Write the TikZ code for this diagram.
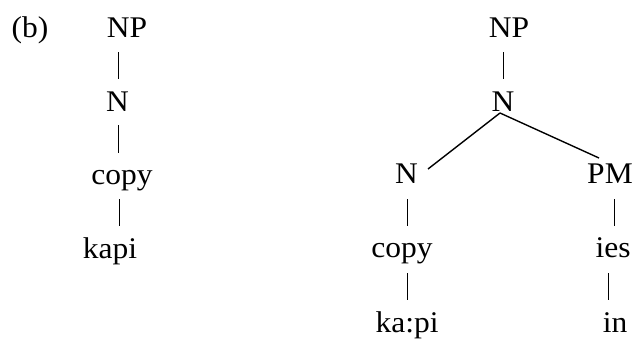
\documentclass[tikz,border=0pt]{standalone}
\usepackage{fontspec}
\setmainfont{Liberation Serif}[FakeStretch=1.05]
\begin{document}
\begin{tikzpicture}[x=1pt,y=-1pt,
  lbl/.style={anchor=base,inner sep=0pt,font=\fontsize{30}{34}\selectfont},
  edge/.style={line width=1.4pt,black},
  bar/.style={line width=1pt,black}]
\useasboundingbox (0,0) rectangle (636,338);
% label
\node[lbl] (b) at (30,37) {(b)};
% left tree
\node[lbl] (np1) at (127,37) {NP};
\node[lbl] (n1) at (117.5,111) {N};
\node[lbl] (copy1) at (122,184) {copy};
\node[lbl] (kapi1) at (110,258) {kapi};
\draw[bar] ([shift={(-9,15)}]np1.base) -- ([shift={(0.5,-32)}]n1.base);
\draw[bar] ([shift={(0.5,14)}]n1.base) -- ([shift={(-4,-31)}]copy1.base);
\draw[bar] ([shift={(-3,15)}]copy1.base) -- ([shift={(9,-32)}]kapi1.base);
% right tree
\node[lbl] (np2) at (509,37) {NP};
\node[lbl] (n2) at (503,111) {N};
\node[lbl] (n3) at (406.5,183) {N};
\node[lbl] (pm) at (610,183) {PM};
\node[lbl] (copy2) at (402,257) {copy};
\node[lbl] (ies) at (613,257) {ies};
\node[lbl] (kapi2) at (407,332) {ka:pi};
\node[lbl] (in) at (615,332) {in};
\draw[bar] ([shift={(-6,15)}]np2.base) -- ([shift={(0,-32)}]n2.base);
\draw[edge] ([shift={(-3,2)}]n2.base) -- ([shift={(21.5,-14)}]n3.base);
\draw[edge] ([shift={(-3,2)}]n2.base) -- ([shift={(-11,-25)}]pm.base);
\draw[bar] ([shift={(0.5,16)}]n3.base) -- ([shift={(5,-31)}]copy2.base);
\draw[bar] ([shift={(4,16)}]pm.base) -- ([shift={(1,-31)}]ies.base);
\draw[bar] ([shift={(5,16)}]copy2.base) -- ([shift={(0,-32)}]kapi2.base);
\draw[bar] ([shift={(-5,16)}]ies.base) -- ([shift={(-7,-32)}]in.base);
\end{tikzpicture}
\end{document}
